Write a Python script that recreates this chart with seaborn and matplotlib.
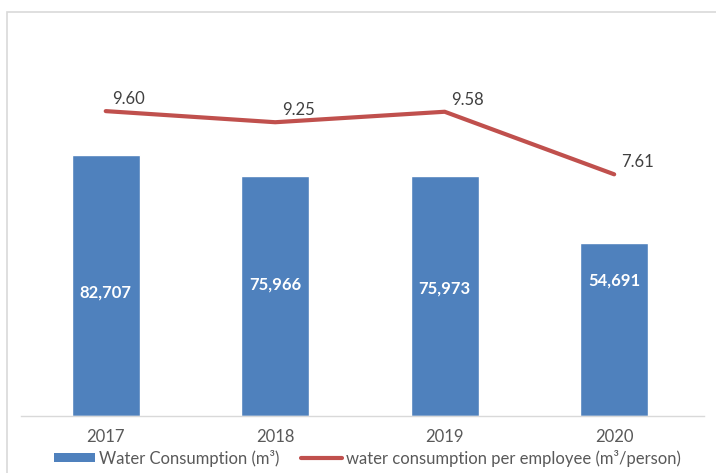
import numpy as np
import pandas as pd
import matplotlib
matplotlib.use("Agg")
import matplotlib.pyplot as plt
from matplotlib.patches import Rectangle
from matplotlib.lines import Line2D
from matplotlib.patches import Patch
import seaborn as sns

years = ["2017", "2018", "2019", "2020"]
water_consumption = [82707, 75966, 75973, 54691]
per_employee = [9.60, 9.25, 9.58, 7.61]
bar_label_height = [39200, 41500, 40200, 43000]

bar_color = "#4F81BD"
line_color = "#C0504D"
text_gray = "#595959"

sns.set_theme(style="white")
plt.rcParams["font.family"] = ["Lato", "DejaVu Sans"]

fig = plt.figure(figsize=(7.16, 4.73), dpi=100)
W, H = 716, 473

# outer chart frame
fig.patches.append(Rectangle((7 / W, -0.1), 1.2, (H - 12) / H + 0.1,
                             transform=fig.transFigure, fill=False,
                             edgecolor="#D9D9D9", lw=1.2))

ax = fig.add_axes([21 / W, (H - 416) / H, (704 - 21) / W, (416 - 100) / H])
df = pd.DataFrame({"year": years, "water": water_consumption})
sns.barplot(data=df, x="year", y="water", color=bar_color, width=0.4,
            saturation=1, ax=ax)
ax.set_xlim(-0.5, 3.53)
ax.set_ylim(0, 100000)
ax.set_xlabel("")
ax.set_ylabel("")
ax.set_yticks([])
for s in ["top", "left", "right"]:
    ax.spines[s].set_visible(False)
ax.spines["bottom"].set_color("#D9D9D9")
ax.spines["bottom"].set_linewidth(1.0)
ax.tick_params(axis="x", length=0, pad=9, labelsize=12, labelcolor=text_gray)

for i, (v, h) in enumerate(zip(water_consumption, bar_label_height)):
    ax.text(i, h, f"{v:,}", ha="center", va="center", color="white",
            fontsize=12, fontweight="bold")

ax2 = ax.twinx()
sns.lineplot(x=np.arange(len(years)), y=per_employee, color=line_color,
             lw=3, ax=ax2, solid_capstyle="round")
ax2.set_ylim(0, 9.95)
ax2.set_xlim(-0.5, 3.53)
ax2.set_yticks([])
ax2.set_ylabel("")
for s in ["top", "left", "right", "bottom"]:
    ax2.spines[s].set_visible(False)

for i, v in enumerate(per_employee):
    ax2.annotate(f"{v:.2f}", (i, v), xytext=(23, 12), textcoords="offset pixels",
                 ha="center", va="center", fontsize=12, color="#404040")

handles = [Patch(facecolor=bar_color, edgecolor="none"),
           Line2D([0], [0], color=line_color, lw=3, solid_capstyle="round")]
labels = ["Water Consumption (m\u00b3)",
          "water consumption per employee (m\u00b3/person)"]
fig.legend(handles, labels, loc="center", bbox_to_anchor=(367 / W, (H - 458) / H),
           ncol=2, frameon=False, fontsize=12, handlelength=2.5, handleheight=0.5,
           handletextpad=0.2, columnspacing=1.3, labelcolor=text_gray,
           borderpad=0.1)

fig.savefig("out.png", dpi=100)
